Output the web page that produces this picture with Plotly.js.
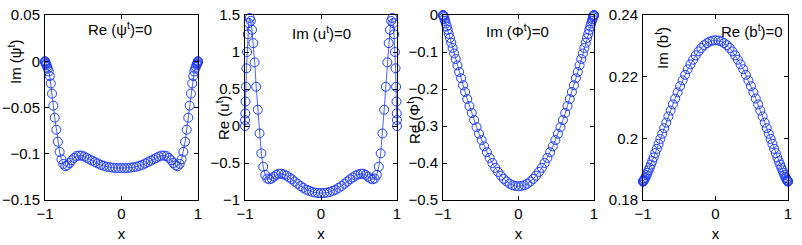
<!DOCTYPE html>
<html>
<head>
<meta charset="utf-8">
<script src="https://cdn.plot.ly/plotly-3.0.1.min.js"></script>
<style>html,body{margin:0;padding:0;background:#fff;}#chart{width:802px;height:245px;}</style>
</head>
<body>
<div id="chart"></div>
<script>
// Chebyshev grid positions (shared by all panels)
const xGrid = [-1, -0.9992, -0.9969, -0.9931, -0.9877, -0.9808, -0.9724, -0.9625, -0.9511, -0.9382, -0.9239, -0.9081, -0.891, -0.8725, -0.8526, -0.8315, -0.809, -0.7853, -0.7604, -0.7343, -0.7071, -0.6788, -0.6494, -0.6191, -0.5878, -0.5556, -0.5225, -0.4886, -0.454, -0.4187, -0.3827, -0.3461, -0.309, -0.2714, -0.2334, -0.1951, -0.1564, -0.1175, -0.0785, -0.0393, 0, 0.0393, 0.0785, 0.1175, 0.1564, 0.1951, 0.2334, 0.2714, 0.309, 0.3461, 0.3827, 0.4187, 0.454, 0.4886, 0.5225, 0.5556, 0.5878, 0.6191, 0.6494, 0.6788, 0.7071, 0.7343, 0.7604, 0.7853, 0.809, 0.8315, 0.8526, 0.8725, 0.891, 0.9081, 0.9239, 0.9382, 0.9511, 0.9625, 0.9724, 0.9808, 0.9877, 0.9931, 0.9969, 0.9992, 1];

// Panel 1: Im(psi)
const imPsi = [0, -0.0003, -0.001, -0.002, -0.003, -0.004, -0.006, -0.008, -0.011, -0.016, -0.024, -0.035, -0.048, -0.061, -0.074, -0.087, -0.098, -0.106, -0.111, -0.1135, -0.1125, -0.110, -0.107, -0.1045, -0.1025, -0.102, -0.102, -0.103, -0.1045, -0.106, -0.1075, -0.109, -0.1105, -0.112, -0.113, -0.114, -0.1145, -0.115, -0.1155, -0.1155, -0.1155,
  -0.1155, -0.1155, -0.115, -0.1145, -0.114, -0.113, -0.112, -0.1105, -0.109, -0.1075, -0.106, -0.1045, -0.103, -0.102, -0.102, -0.1025, -0.1045, -0.107, -0.110, -0.1125, -0.1135, -0.111, -0.106, -0.098, -0.087, -0.074, -0.061, -0.048, -0.035, -0.024, -0.016, -0.011, -0.008, -0.006, -0.004, -0.003, -0.002, -0.001, -0.0003, 0];

// Panel 2: Re(u)
const reU = [0, 0.08, 0.17, 0.33, 0.53, 0.78, 1.0, 1.24, 1.39, 1.46, 1.42, 1.30, 1.12, 0.86, 0.53, 0.22, -0.10, -0.37, -0.55, -0.66, -0.71, -0.72, -0.71, -0.685, -0.66, -0.645, -0.645, -0.655, -0.67, -0.695, -0.72, -0.75, -0.78, -0.81, -0.835, -0.86, -0.875, -0.89, -0.90, -0.905, -0.907,
  -0.905, -0.90, -0.89, -0.875, -0.86, -0.835, -0.81, -0.78, -0.75, -0.72, -0.695, -0.67, -0.655, -0.645, -0.645, -0.66, -0.685, -0.71, -0.72, -0.71, -0.66, -0.55, -0.37, -0.10, 0.22, 0.53, 0.86, 1.12, 1.30, 1.42, 1.46, 1.39, 1.24, 1.0, 0.78, 0.53, 0.33, 0.17, 0.08, 0];

// Panel 3: Re(Phi)
const rePhi = [0, -0.001, -0.001, -0.003, -0.006, -0.011, -0.016, -0.023, -0.031, -0.040, -0.051, -0.062, -0.075, -0.089, -0.104, -0.119, -0.136, -0.154, -0.171, -0.190, -0.208, -0.227, -0.246, -0.265, -0.284, -0.303, -0.321, -0.338, -0.355, -0.371, -0.386, -0.400, -0.413, -0.424, -0.434, -0.443, -0.450, -0.456, -0.460, -0.462, -0.463,
  -0.462, -0.460, -0.456, -0.450, -0.443, -0.434, -0.424, -0.413, -0.400, -0.386, -0.371, -0.355, -0.338, -0.321, -0.303, -0.284, -0.265, -0.246, -0.227, -0.208, -0.190, -0.171, -0.154, -0.136, -0.119, -0.104, -0.089, -0.075, -0.062, -0.051, -0.040, -0.031, -0.023, -0.016, -0.011, -0.006, -0.003, -0.001, -0.001, 0];

// Panel 4: Im(b)
const imB = [0.186, 0.186, 0.1861, 0.1862, 0.1864, 0.1867, 0.1871, 0.1875, 0.1881, 0.1888, 0.1896, 0.1905, 0.1915, 0.1926, 0.1938, 0.1952, 0.1966, 0.1982, 0.1998, 0.2015, 0.2033, 0.2051, 0.2071, 0.209, 0.211, 0.2129, 0.2149, 0.2169, 0.2188, 0.2206, 0.2224, 0.224, 0.2255, 0.2269, 0.2282, 0.2293, 0.2302, 0.2309, 0.2314, 0.2317, 0.2318,
  0.2317, 0.2314, 0.2309, 0.2302, 0.2293, 0.2282, 0.2269, 0.2255, 0.224, 0.2224, 0.2206, 0.2188, 0.2169, 0.2149, 0.2129, 0.211, 0.209, 0.2071, 0.2051, 0.2033, 0.2015, 0.1998, 0.1982, 0.1966, 0.1952, 0.1938, 0.1926, 0.1915, 0.1905, 0.1896, 0.1888, 0.1881, 0.1875, 0.1871, 0.1867, 0.1864, 0.1862, 0.1861, 0.186, 0.186];

const yLabels = ['Im (ψ<sup>t</sup>)', 'Re (u<sup>t</sup>)', 'Re (Φ<sup>t</sup>)', 'Im (b<sup>t</sup>)'];
const panelNotes = ['Re (ψ<sup>t</sup>)=0', 'Im (u<sup>t</sup>)=0', 'Im (Φ<sup>t</sup>)=0', 'Re (b<sup>t</sup>)=0'];
const xTicks = [-1, 0, 1];
const yRanges = [[-0.15, 0.05], [-1, 1.5], [-0.5, 0], [0.18, 0.24]];
const yDticks = [0.05, 0.5, 0.1, 0.02];
const series = [imPsi, reU, rePhi, imB];

const W = 802, H = 245;
const FONT = 'Liberation Sans, Arial, Helvetica, sans-serif';
const BLUE = 'rgb(30,60,255)';
const boxes = [[45, 198], [245, 397], [443, 594], [643, 788]];
const yTop = 15, yBot = 200;
const yLabelPos = [[15, 62], [222, 118], [413, 120], [661, 48]];
const notePos = [[120, 29], [321, 32], [517, 30], [752, 30]];

const traces = [];
const layout = {
  width: W, height: H,
  margin: {l: 0, r: 0, t: 0, b: 0},
  paper_bgcolor: '#fff', plot_bgcolor: '#fff',
  showlegend: false,
  font: {family: FONT, size: 15, color: '#000'},
  annotations: []
};

for (let i = 0; i < 4; i++) {
  const n = i === 0 ? '' : String(i + 1);
  traces.push({
    x: xGrid, y: series[i],
    xaxis: 'x' + n, yaxis: 'y' + n,
    type: 'scatter', mode: 'lines+markers',
    cliponaxis: false,
    line: {color: BLUE, width: 0.8},
    marker: {symbol: 'circle-open', size: 9, color: BLUE, line: {width: 1, color: BLUE}}
  });
  const axCommon = {
    showline: true, mirror: 'ticks', linecolor: '#000', linewidth: 1,
    ticks: 'inside', ticklen: 4, tickwidth: 1, tickcolor: '#000',
    showgrid: false, zeroline: false,
    tickfont: {family: FONT, size: 15, color: '#000'}
  };
  layout['xaxis' + n] = Object.assign({}, axCommon, {
    domain: [boxes[i][0] / W, boxes[i][1] / W],
    anchor: 'y' + n,
    range: [-1, 1],
    tickmode: 'array', tickvals: xTicks, ticktext: xTicks.map(v => v < 0 ? '\u2212' + Math.abs(v) : String(v)),
    title: {text: 'x', font: {family: FONT, size: 15, color: '#000'}, standoff: 7}
  });
  layout['yaxis' + n] = Object.assign({}, axCommon, {
    domain: [(H - yBot) / H, (H - yTop) / H],
    anchor: 'x' + n,
    range: yRanges[i],
    dtick: yDticks[i], tick0: 0,
    ticklabelstandoff: 1
  });
  layout.annotations.push({
    text: yLabels[i], xref: 'paper', yref: 'paper',
    x: yLabelPos[i][0] / W, y: 1 - yLabelPos[i][1] / H,
    xanchor: 'center', yanchor: 'middle', textangle: -90, showarrow: false,
    font: {family: FONT, size: 15, color: '#000'}
  });
  layout.annotations.push({
    text: panelNotes[i], xref: 'paper', yref: 'paper',
    x: notePos[i][0] / W, y: 1 - notePos[i][1] / H,
    xanchor: 'center', yanchor: 'middle', showarrow: false,
    font: {family: FONT, size: 15, color: '#000'}
  });
}

Plotly.newPlot('chart', traces, layout, {staticPlot: true, displayModeBar: false});
</script>
</body>
</html>
